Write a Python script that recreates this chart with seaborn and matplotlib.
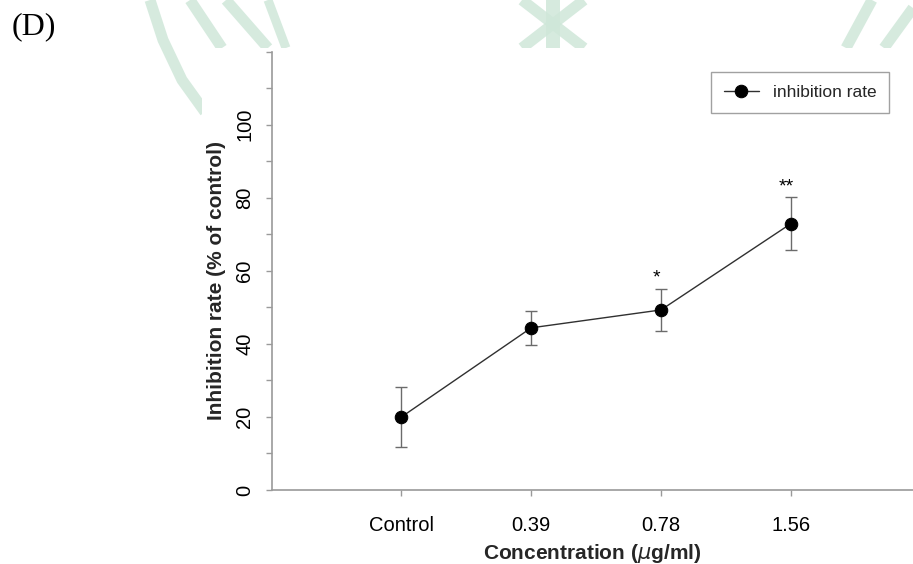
import matplotlib
matplotlib.use("Agg")
import matplotlib.pyplot as plt
import seaborn as sns
import numpy as np
import pandas as pd
from matplotlib.patches import Rectangle

# ---- data -------------------------------------------------------------
categories = ["Control", "0.39", "0.78", "1.56"]
inhibition = [20.0, 44.4, 49.3, 72.9]
sem = [8.2, 4.6, 5.7, 7.2]
significance = ["", "", "*", "**"]

y_ticks = [0, 10, 20, 30, 40, 50, 60, 70, 80, 90, 100, 110, 120]
y_tick_labels = ["0", "", "20", "", "40", "", "60", "", "80", "", "100", "", ""]

# ---- style ------------------------------------------------------------
sns.set_theme(style="ticks")
plt.rcParams["font.family"] = ["Liberation Sans", "DejaVu Sans"]

W, H = 913, 564
fig = plt.figure(figsize=(W / 100, H / 100), dpi=100)

# faint green emblem in the page background, behind the white chart panel
bg = fig.add_axes([0, 0, 1, 1], zorder=-5)
bg.set_xlim(0, W)
bg.set_ylim(H, 0)
bg.axis("off")
wm = "#cfe7d9"
strokes = [
    ([150, 163, 182, 205], [0, 40, 80, 112], 11),
    ([190, 222], [0, 48], 11),
    ([226, 268], [0, 48], 11),
    ([268, 286], [0, 48], 9),
    ([522, 584], [0, 48], 11),
    ([584, 522], [0, 48], 11),
    ([553, 553], [0, 48], 14),
    ([846, 872], [48, 0], 11),
    ([884, 913], [48, 8], 11),
]
for xs, ys, lw in strokes:
    bg.plot(xs, ys, color=wm, lw=lw * 0.72, solid_capstyle="butt", alpha=0.85)
bg.add_patch(Rectangle((202, 48), W - 202, H - 48, facecolor="white",
                       edgecolor="none", zorder=3))

# ---- main axes ----------------------------------------------------------
left, right = 271.7, 913.0
top, bottom = 51.7, 490.0
ax = fig.add_axes([left / W, 1 - bottom / H, (right - left) / W, (bottom - top) / H])
ax.set_facecolor("none")

x = np.arange(len(categories))
df = pd.DataFrame({"pos": x, "rate": inhibition})

ax.errorbar(x, inhibition, yerr=sem, fmt="none", ecolor="#6b6b6b",
            elinewidth=1.0, capsize=4, capthick=1.0, zorder=2)
sns.lineplot(data=df, x="pos", y="rate", ax=ax, color="#303030", lw=1.0,
             marker="o", markersize=9, markerfacecolor="black",
             markeredgecolor="black", label="inhibition rate", zorder=3)

for xi, m, e, s in zip(x, inhibition, sem, significance):
    if s:
        ax.annotate(s, (xi, m + e), xytext=(-3, 4.5), textcoords="offset points",
                    ha="center", va="baseline", fontsize=14, color="black")

ax.set_xlim(-1.0, 3.942)
ax.set_ylim(0, 120)
ax.set_xticks(x)
ax.set_xticklabels(categories, fontsize=14.5)
ax.set_yticks(y_ticks)
ax.set_yticklabels(y_tick_labels, fontsize=14.5, rotation=90, va="center")

spine_c = "#9a9a9a"
for side in ["top", "right"]:
    ax.spines[side].set_visible(False)
for side in ["left", "bottom"]:
    ax.spines[side].set_color(spine_c)
    ax.spines[side].set_linewidth(1.2)
ax.tick_params(axis="both", direction="out", length=4.5, width=1.0,
               color=spine_c, labelcolor="black")
ax.tick_params(axis="x", pad=14)
ax.tick_params(axis="y", pad=8)

ax.set_xlabel("Concentration ($\\mathit{\\mu}$g/ml)", fontsize=15,
              fontweight="bold", labelpad=5)
ax.set_ylabel("Inhibition rate (% of control)", fontsize=15,
              fontweight="bold", labelpad=5)
ax.yaxis.set_label_coords(-0.072, 0.478)

leg = ax.legend(loc="upper right", bbox_to_anchor=(898 / W, 1 - 63 / H),
                bbox_transform=fig.transFigure, fontsize=12.5, frameon=True,
                fancybox=False, handlelength=2.0, handletextpad=0.8,
                borderpad=0.75)
leg.get_frame().set_edgecolor("#8a8a8a")
leg.get_frame().set_linewidth(1.0)

fig.text(12 / W, 1 - 12 / H, "(D)", family=["Liberation Serif", "DejaVu Serif"],
         fontsize=23, va="top", ha="left", color="black")

fig.savefig("out.png", dpi=100)
